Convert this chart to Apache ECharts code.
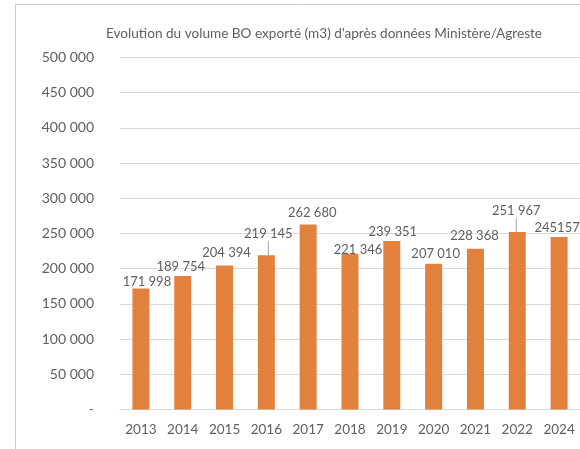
<!DOCTYPE html>
<html>
<head>
<meta charset="utf-8">
<script src="https://cdn.jsdelivr.net/npm/echarts@6/dist/echarts.min.js"></script>
<style>
  html, body { margin: 0; padding: 0; background: #ffffff; }
  #chart { width: 580px; height: 449px; }
</style>
</head>
<body>
<div id="chart"></div>
<script>
// Exported volume of BO (m3), per year
const years = ['2013', '2014', '2015', '2016', '2017', '2018', '2019', '2020', '2021', '2022', '2024'];
const volumes = [171998, 189754, 204394, 219145, 262680, 221346, 239351, 207010, 228368, 251967, 245157];

// Value axis ticks
const yMin = 0;
const yMax = 500000;
const yStep = 50000;

// Labels written without thousands separator
const plainLabelYears = ['2024'];

// Label nudges [dx, dy] in pixels, and which labels get a leader line
const labelNudges = [[6, 0], [-2, -2], [2, -6], [2, -14], [4, -5], [8, 3], [1, -2], [2, -3], [-1, -6], [-1, -14], [-2, -2]];
const leaderYears = ['2016', '2022'];

const TEXT = '#5f5f5f';
const FONT = 'Lato';

function frGroup(v) {
  return String(v).replace(/\B(?=(\d{3})+(?!\d))/g, ' ');
}

const chart = echarts.init(document.getElementById('chart'), null, { renderer: 'canvas' });

chart.setOption({
  animation: false,
  backgroundColor: '#ffffff',
  graphic: [
    { type: 'line', shape: { x1: 15, y1: 4.5, x2: 580, y2: 4.5 }, style: { stroke: '#cccccc', lineWidth: 1 } },
    { type: 'line', shape: { x1: 15.5, y1: 4, x2: 15.5, y2: 449 }, style: { stroke: '#cccccc', lineWidth: 1 } },
    {
      type: 'text', x: 324, y: 34,
      style: {
        text: "Evolution du volume BO exporté (m3) d'après données Ministère/Agreste",
        fill: TEXT, font: '13.6px Lato', align: 'center', verticalAlign: 'middle'
      }
    }
  ],
  grid: { left: 120, top: 57.5, width: 462, height: 352 },
  xAxis: {
    type: 'category',
    data: years,
    axisLine: { show: true, lineStyle: { color: '#d9d9d9' } },
    axisTick: { show: false },
    axisLabel: { color: TEXT, fontFamily: FONT, fontSize: 13.5, margin: 13 }
  },
  yAxis: {
    type: 'value',
    min: yMin,
    max: yMax,
    interval: yStep,
    axisLine: { show: false },
    axisTick: { show: false },
    splitLine: { lineStyle: { color: '#d9d9d9' } },
    axisLabel: {
      color: TEXT, fontFamily: FONT, fontSize: 14, margin: 26,
      formatter: v => (v === 0 ? '-' : frGroup(v))
    }
  },
  series: [{
    type: 'bar',
    barWidth: 17,
    itemStyle: { color: '#E2813D' },
    data: volumes.map((v, i) => ({
      value: v,
      labelLine: { show: leaderYears.includes(years[i]), length2: 0, lineStyle: { color: '#a6a6a6', width: 1 } }
    })),
    label: {
      show: true,
      position: 'top',
      distance: 0,
      color: TEXT,
      fontFamily: FONT,
      fontSize: 13,
      lineHeight: 14,
      formatter: p => (plainLabelYears.includes(years[p.dataIndex]) ? String(p.value) : frGroup(p.value))
    },
    labelLine: { show: false },
    labelLayout: p => ({ dx: labelNudges[p.dataIndex][0], dy: labelNudges[p.dataIndex][1] })
  }]
});
</script>
</body>
</html>
